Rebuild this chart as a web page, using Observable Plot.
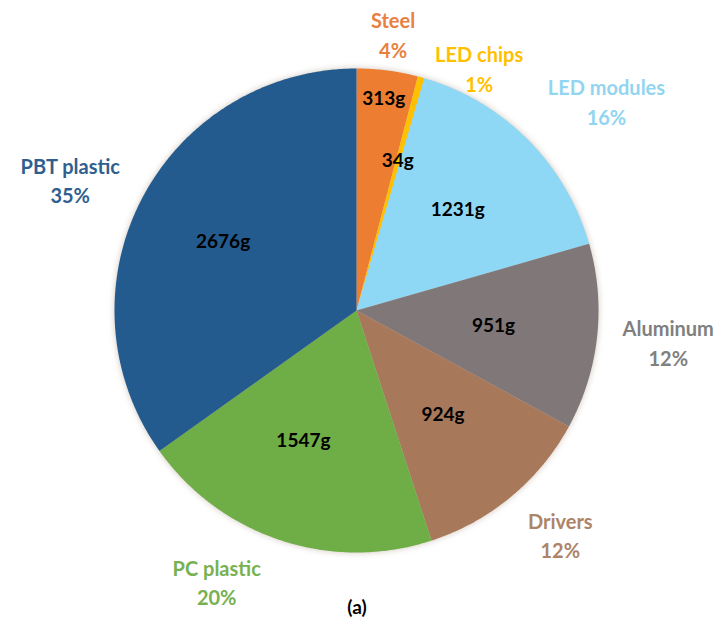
<!DOCTYPE html>
<html><head><meta charset="utf-8">
<script src="https://cdn.jsdelivr.net/npm/d3@7"></script>
<script src="https://cdn.jsdelivr.net/npm/@observablehq/plot@0.6"></script>
<style>
body{margin:0;background:#fff;font-family:Lato,sans-serif}
#cap{width:714px;text-align:center;font:bold 19px Lato,sans-serif;line-height:22px;color:#000}
g[aria-label="line"]{filter:drop-shadow(0 0 3px rgba(120,90,60,0.35))}
</style></head><body>
<div id="chart"></div>
<div id="cap">(a)</div>
<script>
const materials = ["Steel","LED chips","LED modules","Aluminum","Drivers","PC plastic","PBT plastic"];
const grams = [313,34,1231,951,924,1547,2676];
const percents = [4,1,16,12,12,20,35];
const sliceColors = ["#ED7D31","#FFC000","#8ED7F5","#7F7778","#A8785B","#6FAD47","#245B8E"];
const labelColors = ["#E8813F","#FFC000","#92D5F0","#808080","#AD8468","#77B152","#2F5F8F"];

// layout constants
const R = 242;
const insideR = [0.88,0.64,0.59,0.57,0.56,0.58,0.62];
const insideShift = [0,0,0,0,0,4,0]; // degrees
const outsideShift = [0,9,1,0,-1,7,0]; // degrees
const outsideExtra = [0,-12,24,4,16,20,8]; // px
const gap = 22;
const outerFont = 20;

const pie = d3.pie().sort(null).value(d => d)(grams);
const slices = [];
const insideLabels = [];
const outsideLabels = [];
const ctx = document.createElement("canvas").getContext("2d");
ctx.font = `bold ${outerFont}px Lato`;
const rad = Math.PI / 180;
pie.forEach((p, i) => {
  const name = materials[i];
  const a0 = p.startAngle, a1 = p.endAngle;
  const n = Math.max(2, Math.ceil((a1 - a0) / (Math.PI / 360)));
  slices.push({name, x: 0, y: 0});
  for (let k = 0; k <= n; k++) {
    const a = a0 + (a1 - a0) * k / n;
    slices.push({name, x: R * Math.sin(a), y: -R * Math.cos(a)});
  }
  const mid = (a0 + a1) / 2;
  const ai = mid + insideShift[i] * rad;
  insideLabels.push({text: grams[i] + "g", x: insideR[i] * R * Math.sin(ai), y: -insideR[i] * R * Math.cos(ai)});
  const am = mid + outsideShift[i] * rad;
  const w = Math.max(ctx.measureText(name).width, ctx.measureText(percents[i] + "%").width);
  const h = 30;
  const rr = R + gap + outsideExtra[i];
  outsideLabels.push({
    text: name + "\n" + percents[i] + "%",
    color: labelColors[i],
    x: rr * Math.sin(am) + (w / 2) * Math.sin(am),
    y: -rr * Math.cos(am) - (h / 2) * Math.cos(am)
  });
});

const chart = Plot.plot({
  width: 722, height: 596,
  margin: 0,
  x: {domain: [-356, 366], range: [0, 722], axis: null},
  y: {domain: [-310, 286], range: [0, 596], axis: null},
  color: {domain: materials, range: sliceColors},
  marks: [
    Plot.line(slices, {x: "x", y: "y", z: "name", fill: "name", stroke: "none", curve: "linear-closed"}),
    Plot.text(insideLabels, {x: "x", y: "y", text: "text", fill: "#000", fontSize: 19, fontWeight: "bold"}),
    Plot.text(outsideLabels, {x: "x", y: "y", text: "text", fill: "color", fontSize: outerFont, fontWeight: "bold", lineHeight: 1.48})
  ],
  style: {fontFamily: "Lato, sans-serif", background: "transparent", overflow: "visible"}
});
document.getElementById("chart").appendChild(chart);
</script>
</body></html>
